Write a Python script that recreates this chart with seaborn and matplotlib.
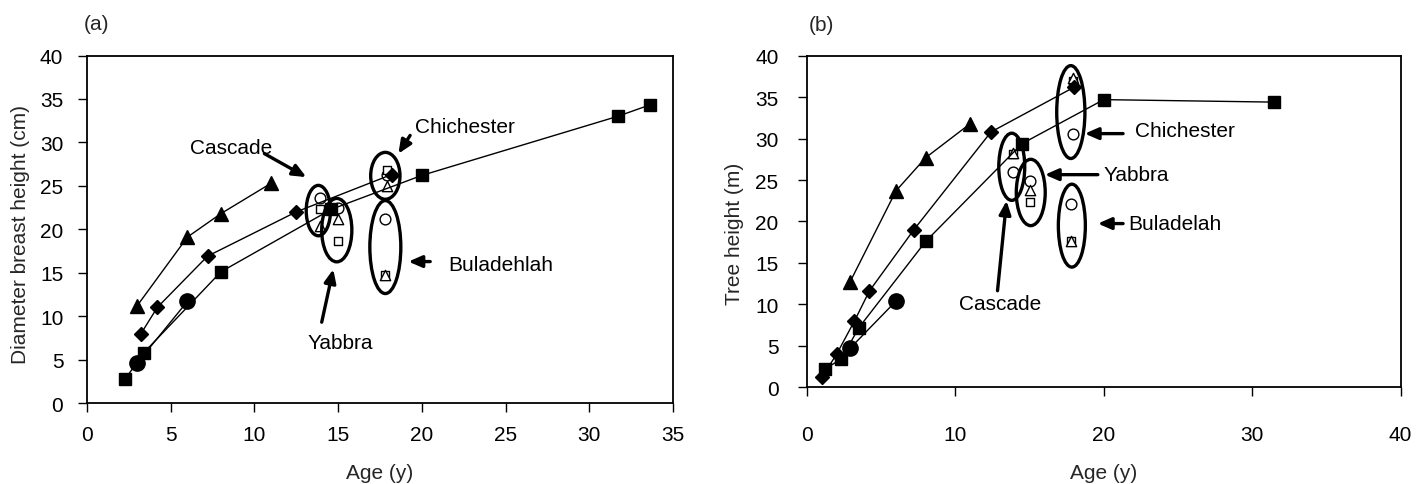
import matplotlib
matplotlib.use("Agg")
import matplotlib.pyplot as plt
import seaborn as sns
from matplotlib.patches import Ellipse

# ---------------- Panel (a): diameter at breast height (cm) vs age (y) ----------------
a_tri_age = [3.0, 6.0, 8.0, 11.0]
a_tri_val = [11.2, 19.1, 21.8, 25.3]
a_dia_age = [3.2, 4.2, 7.2, 12.5, 18.2]
a_dia_val = [7.9, 11.0, 16.9, 22.0, 26.3]
a_sq_age = [2.3, 3.4, 8.0, 14.6, 20.0, 31.7, 33.6]
a_sq_val = [2.8, 5.8, 15.1, 22.3, 26.2, 33.0, 34.3]
a_ci_age = [3.0, 6.0]
a_ci_val = [4.6, 11.7]

# open symbols, one group per site
a_sites = ["Cascade", "Yabbra", "Chichester", "Buladehlah"]
a_site_age = [13.9, 15.0, 17.9, 17.8]
a_open_circle = [23.6, 22.5, 26.3, 21.2]
a_open_square = [22.35, 18.7, 26.8, 14.7]
a_open_triangle = [20.4, 21.2, 25.0, 14.7]

# ---------------- Panel (b): tree height (m) vs age (y) ----------------
b_tri_age = [2.9, 6.0, 8.0, 11.0]
b_tri_val = [12.7, 23.7, 27.7, 31.8]
b_dia_age = [1.0, 2.0, 3.2, 4.2, 7.2, 12.4, 18.0]
b_dia_val = [1.2, 4.0, 8.0, 11.6, 19.0, 30.8, 36.2]
b_sq_age = [1.2, 2.3, 3.5, 8.0, 14.5, 20.0, 31.5]
b_sq_val = [2.2, 3.4, 7.2, 17.6, 29.4, 34.7, 34.4]
b_ci_age = [2.9, 6.0]
b_ci_val = [4.7, 10.4]

b_sites = ["Cascade", "Yabbra", "Chichester", "Buladelah"]
b_site_age = [13.9, 15.0, 17.9, 17.8]
b_open_circle = [26.0, 24.9, 30.6, 22.1]
b_open_square = [28.2, 22.3, 37.0, 17.6]
b_open_triangle = [28.3, 23.8, 37.3, 17.6]

# ---------------- annotation geometry (data units) ----------------
# ellipse: (x centre, y centre, width, height)
a_ellipses = [(13.82, 22.15, 1.45, 5.8), (14.92, 19.9, 1.8, 7.3),
              (17.82, 26.15, 1.75, 5.4), (17.82, 17.95, 1.85, 10.7)]
b_ellipses = [(13.8, 26.6, 1.75, 8.1), (15.08, 23.5, 1.95, 8.0),
              (17.78, 33.2, 1.9, 11.2), (17.85, 19.5, 1.82, 10.0)]
# label: (text x, text y, ha, arrow tail, arrow tip)
a_labels = [(8.62, 29.4, "center", (10.6, 28.7), (13.1, 26.0)),
            (15.11, 7.0, "center", (14.02, 9.3), (14.71, 15.4)),
            (19.6, 31.85, "left", (19.3, 30.8), (18.6, 28.7)),
            (21.57, 15.9, "left", (20.5, 16.28), (19.2, 16.28))]
b_labels = [(13.0, 10.1, "center", (12.84, 11.65), (13.45, 22.5)),
            (19.95, 25.7, "left", (19.6, 25.65), (16.03, 25.65)),
            (22.09, 30.95, "left", (21.3, 30.6), (18.72, 30.6)),
            (21.64, 19.7, "left", (21.3, 19.75), (19.6, 19.75))]

sns.set_theme(style="ticks")
plt.rcParams["font.family"] = ["Liberation Sans", "DejaVu Sans"]
plt.rcParams["axes.linewidth"] = 1.3
FS = 15

fig = plt.figure(figsize=(14.21, 4.85), dpi=100)
ax_a = fig.add_axes([0.0612, 0.167, 0.4124, 0.7165])
ax_b = fig.add_axes([0.5679, 0.1994, 0.4177, 0.6837])


def filled_series(ax, x, y, marker, ms):
    sns.lineplot(x=x, y=y, ax=ax, color="black", lw=1.0, marker=marker,
                 markersize=ms, markerfacecolor="black", markeredgecolor="black",
                 markeredgewidth=1.0, estimator=None, sort=False, zorder=3)


def open_series(ax, x, y, marker, s):
    sns.scatterplot(x=x, y=y, ax=ax, marker=marker, s=s, facecolor="white",
                    edgecolor="black", linewidth=1.0, zorder=2)


def decorate(ax, ellipses, labels, texts):
    for (cx, cy, w, h) in ellipses:
        ax.add_patch(Ellipse((cx, cy), w, h, fill=False, edgecolor="black",
                             lw=2.4, zorder=4))
    for (tx, ty, ha, tail, tip), txt in zip(labels, texts):
        ax.text(tx, ty, txt, ha=ha, va="center", fontsize=FS, color="black")
        ax.annotate("", xy=tip, xytext=tail,
                    arrowprops=dict(arrowstyle="-|>,head_length=0.8,head_width=0.35",
                                    mutation_scale=10, lw=2.4, color="black",
                                    shrinkA=0, shrinkB=0), zorder=5)


# panel (a)
for vals, marker, s in [(a_open_circle, "o", 60), (a_open_square, "s", 36),
                        (a_open_triangle, "^", 55)]:
    open_series(ax_a, a_site_age, vals, marker, s)
filled_series(ax_a, a_tri_age, a_tri_val, "^", 10)
filled_series(ax_a, a_dia_age, a_dia_val, "D", 7)
filled_series(ax_a, a_sq_age, a_sq_val, "s", 8.5)
filled_series(ax_a, a_ci_age, a_ci_val, "o", 11)
decorate(ax_a, a_ellipses, a_labels, a_sites)

# panel (b)
for vals, marker, s in [(b_open_circle, "o", 60), (b_open_square, "s", 36),
                        (b_open_triangle, "^", 55)]:
    open_series(ax_b, b_site_age, vals, marker, s)
filled_series(ax_b, b_tri_age, b_tri_val, "^", 10)
filled_series(ax_b, b_dia_age, b_dia_val, "D", 7)
filled_series(ax_b, b_sq_age, b_sq_val, "s", 8.5)
filled_series(ax_b, b_ci_age, b_ci_val, "o", 11)
decorate(ax_b, b_ellipses, b_labels, b_sites)

ax_a.set_xlim(0, 35)
ax_a.set_xticks(range(0, 36, 5))
ax_b.set_xlim(0, 40)
ax_b.set_xticks(range(0, 41, 10))
for ax in (ax_a, ax_b):
    ax.set_ylim(0, 40)
    ax.set_yticks(range(0, 41, 5))
    for sp in ax.spines.values():
        sp.set_color("black")
        sp.set_linewidth(1.3)
    ax.tick_params(direction="out", length=6.5, width=1.0, color="black",
                   labelsize=FS, labelcolor="black")

ax_a.tick_params(axis="x", pad=9.5)
ax_a.tick_params(axis="y", pad=10.5)
ax_b.tick_params(axis="x", pad=20.5)
ax_b.tick_params(axis="y", pad=14)

ax_a.set_xlabel("Age (y)", fontsize=FS)
ax_b.set_xlabel("Age (y)", fontsize=FS)
ax_a.set_ylabel("Diameter breast height (cm)", fontsize=FS)
ax_b.set_ylabel("Tree height (m)", fontsize=FS)
ax_a.xaxis.set_label_coords(0.2674, 0.024, transform=fig.transFigure)
ax_b.xaxis.set_label_coords(0.7766, 0.024, transform=fig.transFigure)
ax_a.yaxis.set_label_coords(0.0141, 0.5175, transform=fig.transFigure)
ax_b.yaxis.set_label_coords(0.5172, 0.5175, transform=fig.transFigure)
for lab in (ax_a.xaxis.label, ax_b.xaxis.label, ax_a.yaxis.label, ax_b.yaxis.label):
    lab.set_va("center")
    lab.set_ha("center")
    lab.set_rotation_mode("anchor")

fig.text(0.0676, 0.9505, "(a)", ha="center", va="center", fontsize=FS)
fig.text(0.5778, 0.948, "(b)", ha="center", va="center", fontsize=FS)

fig.savefig("out.png", dpi=100, facecolor="white")
